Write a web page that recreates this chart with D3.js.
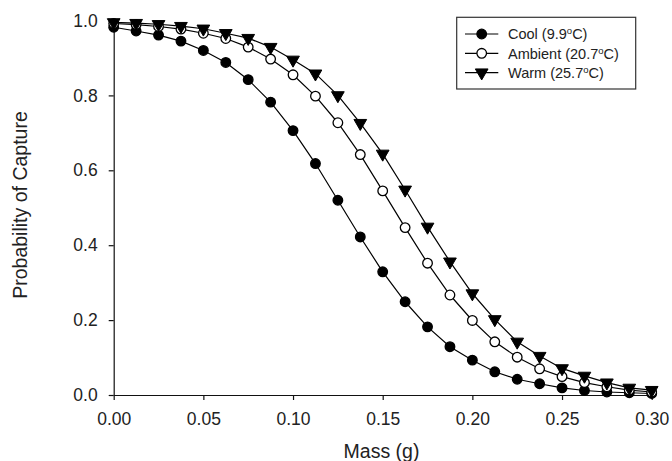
<!DOCTYPE html>
<html>
<head>
<meta charset="utf-8">
<script src="https://cdn.jsdelivr.net/npm/d3@7"></script>
<style>
  body { margin: 0; background: #fff; }
  svg { display: block; font-family: "Liberation Sans", Arial, sans-serif; }
</style>
</head>
<body>
<svg id="chart"></svg>
<script>
// Mass values (g) where the curves were evaluated
var mass = [0, 0.0125, 0.025, 0.0375, 0.05, 0.0625, 0.075, 0.0875, 0.1, 0.1125,
  0.125, 0.1375, 0.15, 0.1625, 0.175, 0.1875, 0.2, 0.2125, 0.225, 0.2375,
  0.25, 0.2625, 0.275, 0.2875, 0.3];

// Probability of capture for each temperature treatment
var cool = [0.982, 0.972, 0.961, 0.945, 0.920, 0.888, 0.842, 0.782, 0.706, 0.618,
  0.520, 0.422, 0.329, 0.249, 0.182, 0.129, 0.093, 0.062, 0.042, 0.030,
  0.019, 0.012, 0.008, 0.006, 0.004];
var ambient = [0.992, 0.989, 0.984, 0.977, 0.966, 0.952, 0.929, 0.897, 0.855, 0.798,
  0.727, 0.642, 0.545, 0.447, 0.352, 0.267, 0.199, 0.142, 0.101, 0.070,
  0.049, 0.033, 0.022, 0.013, 0.008];
var warm = [0.995, 0.993, 0.990, 0.985, 0.978, 0.966, 0.953, 0.929, 0.895, 0.858,
  0.800, 0.726, 0.644, 0.548, 0.449, 0.356, 0.271, 0.202, 0.142, 0.104,
  0.071, 0.051, 0.033, 0.019, 0.013];

var xTicks = [0, 0.05, 0.10, 0.15, 0.20, 0.25, 0.30];
var yTicks = [0, 0.2, 0.4, 0.6, 0.8, 1.0];

var seriesNames = ["Cool", "Ambient", "Warm"];
var seriesTemps = ["9.9", "20.7", "25.7"];

var series = [
  { name: seriesNames[0], temp: seriesTemps[0], values: cool, shape: "circle", fill: "#000" },
  { name: seriesNames[1], temp: seriesTemps[1], values: ambient, shape: "circle", fill: "#fff" },
  { name: seriesNames[2], temp: seriesTemps[2], values: warm, shape: "triangle", fill: "#000" }
];

var W = 672, H = 461;
var svg = d3.select("#chart").attr("width", W).attr("height", H);

var x = d3.scaleLinear().domain([0, 0.3]).range([113.7, 651.7]);
var y = d3.scaleLinear().domain([0, 1]).range([395, 20.5]);

// axes
var xAxis = svg.append("g")
  .attr("transform", "translate(0,395)")
  .call(d3.axisBottom(x).tickValues(xTicks).tickFormat(d3.format(".2f")).tickSize(5).tickSizeOuter(0).tickPadding(13));
var yAxis = svg.append("g")
  .attr("transform", "translate(113.7,0)")
  .call(d3.axisLeft(y).tickValues(yTicks).tickFormat(d3.format(".1f")).tickSize(5).tickSizeOuter(0).tickPadding(11));

svg.selectAll(".domain, .tick line").attr("stroke", "#111").attr("stroke-width", 1.2);
svg.selectAll(".tick text")
  .attr("fill", "#222")
  .style("font-size", "17.5px")
  .style("font-family", "'Liberation Sans', Arial, sans-serif");
xAxis.selectAll(".tick text").attr("dy", "0.71em");

// axis titles
svg.append("text")
  .attr("x", 381.5).attr("y", 458)
  .attr("text-anchor", "middle")
  .attr("fill", "#222")
  .style("font-size", "19.5px")
  .text("Mass (g)");

svg.append("text")
  .attr("transform", "translate(27,205) rotate(-90)")
  .attr("text-anchor", "middle")
  .attr("fill", "#222")
  .style("font-size", "19.5px")
  .text("Probability of Capture");

var line = d3.line()
  .x(function (d, i) { return x(mass[i]); })
  .y(function (d) { return y(d); });

var tri = d3.symbol().type(d3.symbolTriangle).size(70);

function drawMarker(g, s, cx, cy) {
  if (s.shape === "circle") {
    g.append("circle")
      .attr("cx", cx).attr("cy", cy).attr("r", 4.8)
      .attr("fill", s.fill).attr("stroke", "#000").attr("stroke-width", 1.3);
  } else {
    g.append("path")
      .attr("d", tri)
      .attr("transform", "translate(" + cx + "," + cy + ") rotate(180)")
      .attr("fill", s.fill).attr("stroke", "#000").attr("stroke-width", 1);
  }
}

series.forEach(function (s) {
  var g = svg.append("g");
  g.append("path")
    .attr("d", line(s.values))
    .attr("fill", "none")
    .attr("stroke", "#000")
    .attr("stroke-width", 1.2);
  s.values.forEach(function (v, i) {
    drawMarker(g, s, x(mass[i]), y(v));
  });
});

// legend
var legend = svg.append("g");
legend.append("rect")
  .attr("x", 456.7).attr("y", 17.3)
  .attr("width", 179).attr("height", 71.7)
  .attr("fill", "#fff").attr("stroke", "#333").attr("stroke-width", 1.2);

series.forEach(function (s, i) {
  var ly = 34 + i * 19.3;
  var row = legend.append("g");
  row.append("line")
    .attr("x1", 465).attr("x2", 498.3)
    .attr("y1", ly).attr("y2", ly)
    .attr("stroke", "#000").attr("stroke-width", 1.2);
  drawMarker(row, s, 481.7, ly);
  var t = row.append("text")
    .attr("x", 508).attr("y", ly + 5.2)
    .attr("fill", "#222")
    .style("font-size", "14.5px");
  t.append("tspan").text(s.name + " (" + s.temp);
  t.append("tspan").attr("dy", -5).style("font-size", "9.5px").text("o");
  t.append("tspan").attr("dy", 5).text("C)");
});
</script>
</body>
</html>
